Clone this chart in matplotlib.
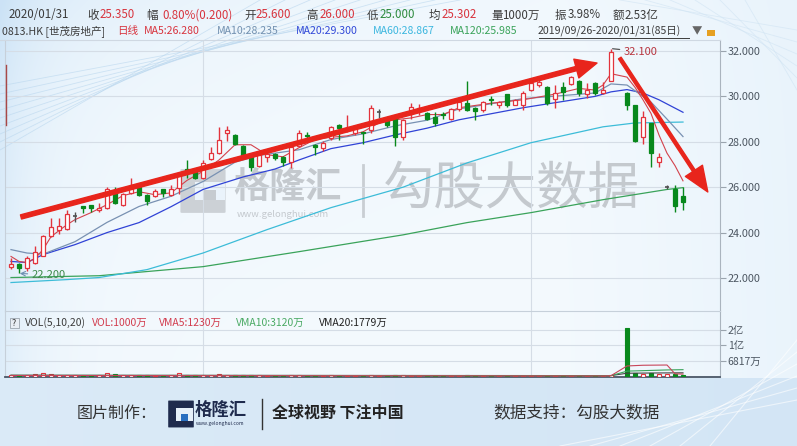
import numpy as np
import matplotlib
matplotlib.use("Agg")
import matplotlib.pyplot as plt
from matplotlib.patches import Rectangle, FancyBboxPatch
from matplotlib.lines import Line2D

plt.rcParams['font.family'] = ['Noto Sans CJK SC', 'DejaVu Sans']

W, H = 797, 446
nan = np.nan

# daily candles, slot 76 is an empty trading slot
opens = [22.5, 22.6, 22.42, 22.68, 22.99, 23.87, 24.13, 24.18, 24.75, 25.17,
         25.2, 25.0, 25.1, 25.8, 25.2, 25.75, 26.0, 25.67, 25.63, 25.9,
         25.67, 25.98, 26.8, 26.77, 26.4, 27.25, 27.5, 28.4, 28.3, 27.8,
         27.34, 26.95, 27.35, 27.47, 27.34, 27.1, 27.8, 28.3, 27.85, 27.74,
         28.17, 28.75, 28.5, 28.4, 28.42, 28.5, 29.3, 28.95, 29.05, 28.2,
         29.27, 29.45, 29.27, 29.1, 29.22, 29.0, 29.45, 29.7, 29.5, 29.4,
         29.87, 29.6, 30.1, 29.63, 29.63, 30.3, 30.5, 30.4, 29.9, 30.4,
         30.55, 30.7, 30.1, 30.6, 30.15, 30.7, nan, 30.15, 29.6, 28.2,
         28.83, 27.12, 26.0, 25.93, 25.6]
highs = [22.9, 22.65, 22.95, 23.4, 23.9, 24.66, 24.66, 25.0, 24.9, 25.17,
         25.2, 25.3, 26.0, 26.0, 25.75, 26.4, 26.05, 25.7, 25.9, 25.92,
         26.1, 26.65, 27.2, 26.8, 27.2, 27.75, 28.66, 28.7, 28.35, 27.85,
         27.4, 27.45, 27.6, 27.5, 27.38, 27.8, 28.5, 28.45, 27.9, 28.05,
         28.7, 28.78, 29.2, 28.65, 28.45, 29.6, 29.45, 29.0, 29.1, 29.0,
         29.7, 29.65, 29.3, 29.3, 29.3, 29.5, 29.8, 30.7, 29.52, 29.8,
         30.0, 29.78, 30.12, 29.9, 30.25, 30.75, 30.85, 30.45, 30.5, 30.65,
         30.9, 30.72, 30.6, 30.62, 30.65, 32.1, nan, 30.2, 29.62, 29.36,
         28.85, 27.5, 26.1, 26.1, 26.0]
lows = [22.4, 22.2, 22.3, 22.6, 22.95, 23.8, 23.95, 24.1, 24.45, 24.88,
        24.92, 24.9, 25.05, 25.25, 25.15, 25.7, 25.6, 25.2, 25.55, 25.55,
        25.6, 25.7, 26.4, 26.35, 26.35, 27.2, 27.45, 28.05, 27.85, 27.3,
        26.7, 26.9, 27.1, 27.2, 26.95, 26.85, 27.75, 28.05, 27.4, 27.6,
        28.1, 28.1, 28.45, 28.3, 27.9, 28.4, 29.05, 28.65, 27.8, 28.1,
        29.0, 29.2, 28.95, 28.7, 29.0, 28.95, 29.35, 29.35, 28.95, 29.3,
        29.6, 29.5, 29.55, 29.6, 29.4, 30.25, 30.4, 29.6, 29.5, 29.85,
        30.5, 30.0, 29.95, 30.05, 30.1, 30.7, nan, 29.4, 28.0, 27.9,
        26.9, 26.9, 25.9, 24.9, 25.0]
closes = [22.6, 22.45, 22.9, 23.16, 23.87, 24.26, 24.3, 24.8, 24.75, 25.1,
          25.1, 25.08, 25.9, 25.3, 25.7, 26.0, 25.67, 25.4, 25.85, 25.75,
          25.9, 26.6, 26.75, 26.4, 27.07, 27.5, 28.09, 28.5, 27.9, 27.35,
          26.9, 27.43, 27.45, 27.28, 27.12, 27.78, 28.4, 28.25, 27.78, 27.96,
          28.66, 28.6, 28.6, 28.6, 28.38, 29.5, 29.3, 28.72, 28.2, 28.97,
          29.54, 29.5, 29.0, 28.83, 29.18, 29.45, 29.75, 29.4, 29.36, 29.75,
          29.83, 29.75, 29.6, 29.85, 30.15, 30.6, 30.65, 29.7, 30.15, 30.2,
          30.85, 30.15, 30.3, 30.15, 30.3, 31.95, nan, 29.63, 28.05, 29.1,
          27.5, 27.34, 26.0, 25.15, 25.35]
volumes = [700, 600, 900, 1100, 1500, 1200, 800, 1000, 700, 600,
           600, 800, 1800, 1400, 900, 800, 900, 700, 600, 600,
           700, 1600, 900, 700, 1000, 800, 1100, 700, 800, 700,
           900, 700, 600, 600, 500, 800, 900, 600, 500, 500,
           700, 600, 600, 500, 500, 900, 600, 600, 800, 700,
           600, 500, 600, 600, 500, 600, 600, 800, 500, 500,
           400, 400, 500, 500, 500, 400, 500, 500, 400, 400,
           400, 500, 400, 400, 400, 900, nan, 20800, 1500, 1400,
           1550, 1100, 1200, 1300, 1000]

# moving averages (slot index, value)
ma5_idx = [0, 1, 2, 3, 4, 5, 7, 8, 10, 12, 14, 16, 18, 20, 22, 24, 26, 28, 30, 32,
           34, 36, 38, 40, 42, 44, 46, 48, 50, 52, 54, 56, 60, 64, 68, 71, 73, 74, 75, 77,
           78, 79, 80, 81, 82, 83, 84]
ma5_val = [22.95, 22.73, 22.68, 22.86, 23.25, 23.82, 24.35, 24.57, 24.88, 25.23,
           25.63, 25.8, 25.67, 25.75, 26.3, 26.7, 27.2, 27.87, 27.87, 27.43,
           27.34, 27.74, 28.1, 28.2, 28.26, 28.44, 28.83, 28.97, 29.05, 29.2,
           29.2, 29.5, 29.7, 29.85, 30.1, 30.35, 30.28, 30.5, 31.0, 30.85,
           30.4, 29.85, 29.25, 28.3, 27.5, 26.95, 26.28]
ma10_idx = [0, 2, 4, 8, 12, 16, 20, 24, 28, 31, 33, 36, 40, 44, 48, 52, 56, 64, 73, 75,
            77, 79, 80, 82, 84]
ma10_val = [23.25, 23.1, 23.05, 23.6, 24.45, 25.15, 25.6, 26.25, 27.1, 27.4,
            27.5, 27.65, 28.1, 28.35, 28.7, 28.95, 29.45, 29.9, 30.15, 30.55,
            30.5, 30.0, 29.75, 29.0, 28.23]
ma20_idx = [0, 2, 4, 8, 12, 16, 20, 24, 29, 33, 36, 40, 44, 48, 52, 56, 64, 73, 75, 77,
            79, 81, 84]
ma20_val = [22.73, 22.68, 23.03, 23.47, 24.0, 24.44, 25.14, 25.9, 26.45, 26.8,
            27.2, 27.7, 27.96, 28.3, 28.6, 28.97, 29.5, 30.0, 30.2, 30.3,
            30.15, 29.85, 29.3]
ma60_idx = [0, 7, 11, 17, 24, 32, 40, 49, 57, 65, 74, 78, 84]
ma60_val = [21.8, 21.93, 22.02, 22.37, 23.1, 24.13, 25.1, 26.0, 27.07, 27.96, 28.66, 28.83, 28.87]
ma120_idx = [0, 11, 24, 36, 49, 57, 65, 74, 82, 84]
ma120_val = [22.02, 22.1, 22.5, 23.16, 23.9, 24.44, 24.88, 25.45, 25.9, 25.98]

# volume moving averages (万)
vma5_idx = [0, 74, 75, 77, 79, 82, 83, 84]
vma5_val = [650, 450, 550, 4700, 5000, 5100, 1350, 1230]
vma10_idx = [0, 75, 77, 79, 82, 84]
vma10_val = [700, 550, 2500, 2700, 3000, 3120]
vma20_idx = [0, 75, 77, 80, 84]
vma20_val = [750, 600, 1600, 1700, 1779]

price_ticks = [22, 24, 26, 28, 30, 32]
vol_ticks = [20000, 13600, 6817]
vol_tick_labels = ['2亿', '1亿', '6817万']
month_idx = [24, 65]

RED = '#e2343d'
GREEN = '#08881c'
DOJI = '#505050'


def fx(px):
    return px / W


def fy(py):
    return 1 - py / H


fig = plt.figure(figsize=(W / 100, H / 100), dpi=100)

# ---- background gradient
bg = fig.add_axes([0, 0, 1, 1], zorder=-10)
yy, xx = np.mgrid[0:H, 0:W].astype(float)
c0 = np.array([0.955, 0.978, 0.995])
c1 = np.array([0.80, 0.89, 0.965])
t = 0.55 * np.exp(-xx / 40) + 0.5 * np.exp(-(xx / 260 + yy / 110)) + 0.25 * np.clip((xx - 560) / 240, 0, 1)
t = np.clip(t, 0, 1)
img = c0[None, None, :] * (1 - t[..., None]) + c1[None, None, :] * t[..., None]
foot = yy >= 378
ft = 0.35 + 0.25 * (xx / W)
img[foot] = (np.array([0.90, 0.945, 0.98])[None, :] * (1 - ft[foot][:, None])
             + np.array([0.78, 0.87, 0.95])[None, :] * ft[foot][:, None])
bg.imshow(img, extent=[0, W, H, 0], aspect='auto')
bg.set_xlim(0, W)
bg.set_ylim(H, 0)
bg.axis('off')
# faint decorative streaks
for k in range(9):
    bg.plot([0, 260 + 25 * k], [150 - 8 * k, 0], color='#b8d6ee', lw=0.6, alpha=0.6)
for k in range(6):
    bg.plot([560 + 30 * k, 797], [446, 400 - 12 * k], color='white', lw=0.8, alpha=0.6)
    bg.plot([620 + 25 * k, 797], [0, 30 + 12 * k], color='#cfe3f3', lw=0.6, alpha=0.6)

# ---- main price axes
ax = fig.add_axes([fx(5), fy(311), 715 / W, 271 / H])
ax.set_facecolor('none')
ax.set_xlim(-0.75, 88.625)
ax.set_ylim(32 - 260 / 22.7, 32 + 11 / 22.7)

# watermark behind the candles
ax.add_patch(FancyBboxPatch((fx(182), fy(212)), 42 / W, 42 / H, boxstyle='round,pad=0.002',
                            transform=fig.transFigure, facecolor='#c6cbd0', edgecolor='none',
                            zorder=0.5, clip_on=False, alpha=0.85))
ax.add_patch(Rectangle((fx(195), fy(200)), 30 / W, 18 / H, transform=fig.transFigure,
                       facecolor='#eaf3fb', edgecolor='none', zorder=0.6, clip_on=False))
ax.add_patch(Rectangle((fx(204), fy(200)), 12 / W, 10 / H, transform=fig.transFigure,
                       facecolor='#c6cbd0', edgecolor='none', zorder=0.7, clip_on=False))
ax.text(fx(233), fy(187), '格隆汇', transform=fig.transFigure, fontsize=26, color='#c4c9ce',
        ha='left', va='center', zorder=0.5, fontweight='bold')
ax.text(fx(237), fy(214), 'www.gelonghui.com', transform=fig.transFigure, fontsize=6.8,
        color='#c4c9ce', ha='left', va='center', zorder=0.5)
ax.add_artist(Line2D([fx(363), fx(363)], [fy(165), fy(216)], transform=fig.transFigure,
                     color='#c9ced3', lw=2, zorder=0.5))
ax.text(fx(383), fy(190), '勾股大数据', transform=fig.transFigure, fontsize=37, color='#c4c9ce',
        ha='left', va='center', zorder=0.5)

# moving averages
ax.plot(ma120_idx, ma120_val, color='#3aa35a', lw=0.9, zorder=2)
ax.plot(ma60_idx, ma60_val, color='#3cbcd8', lw=0.9, zorder=2)
ax.plot(ma20_idx, ma20_val, color='#3043d6', lw=0.9, zorder=2)
ax.plot(ma10_idx, ma10_val, color='#7891b2', lw=0.9, zorder=2)
ax.plot(ma5_idx, ma5_val, color='#d3424c', lw=0.8, zorder=2)

# candles
bw = 0.62
for i in range(len(opens)):
    o, h, l, c = opens[i], highs[i], lows[i], closes[i]
    if np.isnan(o):
        continue
    if c > o:
        col, face = RED, 'white'
    elif c < o:
        col, face = GREEN, GREEN
    else:
        col, face = DOJI, DOJI
    ax.vlines(i, l, h, color=col, lw=1, zorder=3)
    if c == o:
        ax.hlines(o, i - bw / 2, i + bw / 2, color=col, lw=1.2, zorder=4)
    else:
        ax.add_patch(Rectangle((i - bw / 2, min(o, c)), bw, abs(c - o), facecolor=face,
                               edgecolor=col, lw=0.9, zorder=4))

# high / low marks
hi = int(np.nanargmax(highs))
lo = int(np.nanargmin(lows))
ax.annotate(f'{highs[hi]:.3f}', xy=(hi + 0.2, highs[hi]), xytext=(hi + 1.6, highs[hi] - 0.13),
            fontsize=8, color='#b8353f', va='center', ha='left',
            arrowprops=dict(arrowstyle='-', color='#555555', lw=0.9, shrinkA=1, shrinkB=0))
ax.annotate(f'{lows[lo]:.3f}', xy=(lo + 0.1, lows[lo]), xytext=(lo + 1.6, lows[lo] - 0.06),
            fontsize=8, color='#3e8a4a', va='center', ha='left',
            arrowprops=dict(arrowstyle='->', color='#6d8fb0', lw=0.8, shrinkA=1, shrinkB=0))

# trend arrows
ax.annotate('', xy=(73.25, 31.47), xytext=(1.25, 24.69),
            arrowprops=dict(arrowstyle='simple,head_length=1.1,head_width=1.0,tail_width=0.22',
                            mutation_scale=14, color='#e8251c', shrinkA=0, shrinkB=0), zorder=6)
ax.annotate('', xy=(87.1, 25.79), xytext=(76.1, 31.69),
            arrowprops=dict(arrowstyle='simple,head_length=1.3,head_width=1.05,tail_width=0.16',
                            mutation_scale=14, color='#e8251c', shrinkA=0, shrinkB=0), zorder=6)

ax.yaxis.tick_right()
ax.set_yticks(price_ticks)
ax.set_yticklabels([f'{v:.3f}' for v in price_ticks])
ax.set_xticks(month_idx)
ax.set_xticklabels([])
ax.tick_params(axis='y', length=4, width=0.8, colors='#9aa4ae', labelcolor='#4d5762',
               labelsize=7.8, pad=1.5)
ax.tick_params(axis='x', length=0)
ax.grid(True, color='#d5dde6', lw=0.8, zorder=0)
for s in ['top', 'bottom']:
    ax.spines[s].set_visible(False)
ax.spines['left'].set_color('#c6d0da')
ax.spines['right'].set_color('#aab4be')

# ---- volume axes
vax = fig.add_axes([fx(5), fy(377), 715 / W, 66 / H])
vax.set_facecolor('none')
vax.set_xlim(-0.75, 88.625)
vax.set_ylim(0, 66 * 425.5)
for i, v in enumerate(volumes):
    if np.isnan(v):
        continue
    up = closes[i] >= opens[i]
    vax.add_patch(Rectangle((i - bw / 2, 0), bw, v, facecolor='white' if up else GREEN,
                            edgecolor=RED if up else GREEN, lw=0.8, zorder=3))
vax.plot(vma20_idx, vma20_val, color='#444444', lw=0.8, zorder=4)
vax.plot(vma10_idx, vma10_val, color='#3aa35a', lw=0.8, zorder=4)
vax.plot(vma5_idx, vma5_val, color='#c8455a', lw=0.8, zorder=4)
vax.yaxis.tick_right()
vax.set_yticks(vol_ticks)
vax.set_yticklabels(vol_tick_labels)
vax.set_xticks(month_idx)
vax.set_xticklabels([])
vax.tick_params(axis='y', length=4, width=0.8, colors='#9aa4ae', labelcolor='#4d5762',
                labelsize=7.5, pad=1.5)
vax.tick_params(axis='x', length=0)
vax.grid(True, color='#d5dde6', lw=0.8, zorder=0)
vax.spines['top'].set_color('#c6d0da')
vax.spines['left'].set_color('#c6d0da')
vax.spines['right'].set_color('#aab4be')
vax.spines['bottom'].set_color('#4a5666')
vax.spines['bottom'].set_linewidth(1.3)


# ---- header texts
def put(x, y, s, color, size, **kw):
    fig.text(fx(x), fy(y), s, color=color, fontsize=size, ha='left', va='center', **kw)


DARK = '#3c3c3c'
VRED = '#d8343e'
line1 = [(9, '2020/01/31', DARK), (87, '收', DARK), (100, '25.350', VRED),
         (146, '幅', DARK), (162, '0.80%(0.200)', VRED), (244, '开', DARK), (256, '25.600', VRED),
         (306, '高', DARK), (320, '26.000', VRED), (367, '低', DARK), (380, '25.000', '#2e8b3e'),
         (429, '均', DARK), (442, '25.302', VRED), (491, '量', DARK), (502, '1000万', DARK),
         (555, '振', DARK), (568, '3.98%', DARK), (613, '额', DARK), (625, '2.53亿', DARK)]
for x, s, c in line1:
    put(x, 15, s, c, 8.3)

line2 = [(2, '0813.HK [世茂房地产]', DARK), (117, '日线', VRED), (144, 'MA5:26.280', VRED),
         (217, 'MA10:28.235', '#7391b0'), (296, 'MA20:29.300', '#3149d8'),
         (373, 'MA60:28.867', '#3cb7df'), (450, 'MA120:25.985', '#3aa35a'),
         (538, '2019/09/26-2020/01/31(85日)', DARK)]
for x, s, c in line2:
    put(x, 31, s, c, 7.6)
fig.add_artist(Line2D([fx(539), fx(689)], [fy(38), fy(38)], color=DARK, lw=0.7))
put(692, 31, '▼', '#666666', 7.5)
fig.add_artist(Rectangle((fx(707), fy(36)), 8 / W, 6 / H, facecolor='#e6a021', edgecolor='none'))
fig.add_artist(Line2D([fx(0), fx(720)], [fy(40), fy(40)], color='#cfd8e2', lw=0.8))

# red mark on the left edge
fig.add_artist(Line2D([fx(6), fx(6)], [fy(65), fy(125)], color='#a84848', lw=1))

# volume header
fig.add_artist(Rectangle((fx(10), fy(328)), 9 / W, 10 / H, facecolor='#e8eef4',
                         edgecolor='#9aa4ae', lw=0.6))
put(12, 323, '?', DARK, 6.5)
vol_head = [(25, 'VOL(5,10,20)', DARK), (92, 'VOL:1000万', '#d23c4e'),
            (159, 'VMA5:1230万', '#d23c4e'), (236, 'VMA10:3120万', '#4aaa64'),
            (319, 'VMA20:1779万', '#222222')]
for x, s, c in vol_head:
    put(x, 323, s, c, 7.5)

# ---- footer
put(77, 413, '图片制作：', '#333333', 11.5)
fig.add_artist(FancyBboxPatch((fx(169), fy(427)), 24 / W, 26 / H, boxstyle='round,pad=0.001',
                              facecolor='#1f2b4d', edgecolor='none'))
fig.add_artist(Rectangle((fx(176), fy(421)), 17 / W, 13 / H, facecolor='#e6f0f9', edgecolor='none'))
fig.add_artist(Rectangle((fx(181), fy(421)), 7 / W, 7 / H, facecolor='#2a6fc0', edgecolor='none'))
put(195, 410, '格隆汇', '#1f2b4d', 12.5, fontweight='bold')
put(196, 424, 'www.gelonghui.com', '#1f2b4d', 3.6)
fig.add_artist(Line2D([fx(262), fx(262)], [fy(399), fy(429)], color='#333333', lw=1))
put(272, 413, '全球视野 下注中国', '#222222', 11.5, fontweight='bold')
put(493, 413, '数据支持：勾股大数据', '#333333', 12)

fig.savefig('out.png', dpi=100)
